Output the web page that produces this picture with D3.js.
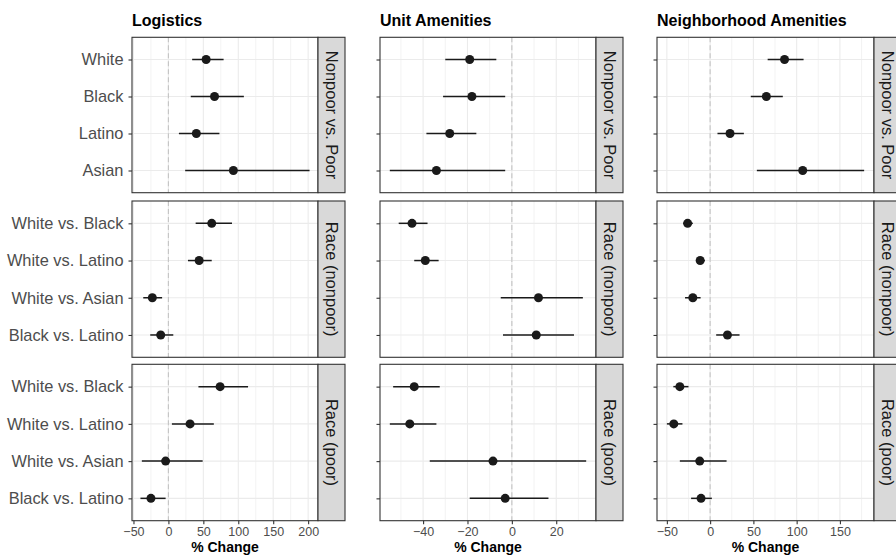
<!DOCTYPE html>
<html>
<head>
<meta charset="utf-8">
<script src="https://cdn.jsdelivr.net/npm/d3@7"></script>
<style>
  body { margin: 0; background: #fff; }
  svg { display: block; font-family: "Liberation Sans", Arial, sans-serif; }
</style>
</head>
<body>
<svg id="chart"></svg>
<script>
// panels (columns) and facet rows
const panels = ["Logistics", "Unit Amenities", "Neighborhood Amenities"];
const groups = ["Nonpoor vs. Poor", "Race (nonpoor)", "Race (poor)"];
const groupCategories = [
  ["White", "Black", "Latino", "Asian"],
  ["White vs. Black", "White vs. Latino", "White vs. Asian", "Black vs. Latino"],
  ["White vs. Black", "White vs. Latino", "White vs. Asian", "Black vs. Latino"]
];

// estimates and 95% intervals, 12 per panel (4 per row, rows in order above)
const logisticsEst = [54, 66, 40, 93, 62, 44, -23, -11, 74, 31, -4, -25];
const logisticsLo  = [34, 32, 15, 24, 39, 28, -36, -26, 43, 5, -38, -40];
const logisticsHi  = [79, 108, 73, 202, 91, 62, -9, 7, 114, 65, 49, -4];

const unitEst = [-19, -18, -28, -34, -45, -39, 12, 11, -44, -46, -8.5, -3];
const unitLo  = [-30, -31, -38.5, -55, -51, -44, -5, -4, -53.5, -55, -37, -19];
const unitHi  = [-7, -3, -16, -3, -38, -33, 32, 28, -32.5, -34, 33.5, 16.5];

const neighEst = [86, 65, 23, 107, -26, -11.5, -20, 20, -35, -42, -12, -10.5];
const neighLo  = [66.5, 47, 8.5, 54, -31, -16, -29, 7, -42.5, -50, -35, -22];
const neighHi  = [108, 84, 39, 178, -20, -6, -11, 34, -25, -32, 19, 2];

// x tick labels for each panel
const logisticsTicks = [-50, 0, 50, 100, 150, 200];
const unitTicks = [-40, -20, 0, 20];
const neighTicks = [-50, 0, 50, 100, 150];

const estimates = [logisticsEst, unitEst, neighEst];
const lows = [logisticsLo, unitLo, neighLo];
const highs = [logisticsHi, unitHi, neighHi];
const tickSets = [logisticsTicks, unitTicks, neighTicks];

// layout
const W = 896, H = 556;
const panelX = [[132, 318], [380, 596], [657, 874]];
const rowY = [[37.3, 192.7], [201, 357.3], [364.3, 520.7]];
const stripW = 27;

const svg = d3.select("#chart").attr("width", W).attr("height", H);
const fmt = d3.format("d");

panels.forEach((title, p) => {
  const all = lows[p].concat(highs[p]);
  const [mn, mx] = d3.extent(all);
  const pad = (mx - mn) * 0.05;
  const x = d3.scaleLinear().domain([mn - pad, mx + pad]).range(panelX[p]);
  const ticks = tickSets[p];
  const step = ticks[1] - ticks[0];
  const minor = d3.range(ticks[0] - step / 2, mx + pad, step).filter(v => v > mn - pad);

  const g = svg.append("g");

  // column title
  g.append("text")
    .attr("x", panelX[p][0])
    .attr("y", 26)
    .attr("font-size", 16)
    .attr("font-weight", "bold")
    .attr("fill", "#000")
    .text(title);

  groups.forEach((grp, r) => {
    const cats = groupCategories[r];
    const y = d3.scalePoint().domain(cats).range(rowY[r]).padding(0.6);
    const [y0, y1] = rowY[r];
    const rows = cats.map((c, i) => ({
      cat: c,
      est: estimates[p][r * 4 + i],
      lo: lows[p][r * 4 + i],
      hi: highs[p][r * 4 + i]
    }));

    const pg = g.append("g");

    pg.append("rect")
      .attr("x", panelX[p][0]).attr("y", y0)
      .attr("width", panelX[p][1] - panelX[p][0]).attr("height", y1 - y0)
      .attr("fill", "#fff");

    // minor grid
    pg.selectAll(".minor").data(minor).join("line")
      .attr("x1", d => x(d)).attr("x2", d => x(d))
      .attr("y1", y0).attr("y2", y1)
      .attr("stroke", "#ebebeb").attr("stroke-width", 0.6);

    // major grid
    pg.selectAll(".major").data(ticks).join("line")
      .attr("x1", d => x(d)).attr("x2", d => x(d))
      .attr("y1", y0).attr("y2", y1)
      .attr("stroke", "#ebebeb").attr("stroke-width", 1.1);

    pg.selectAll(".hgrid").data(cats).join("line")
      .attr("x1", panelX[p][0]).attr("x2", panelX[p][1])
      .attr("y1", d => y(d)).attr("y2", d => y(d))
      .attr("stroke", "#ebebeb").attr("stroke-width", 1.1);

    // zero reference
    pg.append("line")
      .attr("x1", x(0)).attr("x2", x(0))
      .attr("y1", y0).attr("y2", y1)
      .attr("stroke", "#c4c4c4").attr("stroke-width", 1.1)
      .attr("stroke-dasharray", "5,3");

    // intervals
    pg.selectAll(".ci").data(rows).join("line")
      .attr("x1", d => x(d.lo)).attr("x2", d => x(d.hi))
      .attr("y1", d => y(d.cat)).attr("y2", d => y(d.cat))
      .attr("stroke", "#1a1a1a").attr("stroke-width", 1.5);

    // points
    pg.selectAll(".pt").data(rows).join("circle")
      .attr("cx", d => x(d.est)).attr("cy", d => y(d.cat))
      .attr("r", 4.5)
      .attr("fill", "#1a1a1a");

    // panel border
    pg.append("rect")
      .attr("x", panelX[p][0]).attr("y", y0)
      .attr("width", panelX[p][1] - panelX[p][0]).attr("height", y1 - y0)
      .attr("fill", "none").attr("stroke", "#333").attr("stroke-width", 1.1);

    // strip
    pg.append("rect")
      .attr("x", panelX[p][1]).attr("y", y0)
      .attr("width", stripW).attr("height", y1 - y0)
      .attr("fill", "#d9d9d9").attr("stroke", "#333").attr("stroke-width", 1.1);
    pg.append("text")
      .attr("transform", `translate(${panelX[p][1] + stripW / 2},${(y0 + y1) / 2}) rotate(90)`)
      .attr("text-anchor", "middle")
      .attr("dy", "0.35em")
      .attr("font-size", 16.5)
      .attr("fill", "#1a1a1a")
      .text(grp);

    // y axis
    const ya = pg.append("g")
      .attr("transform", `translate(${panelX[p][0]},0)`)
      .call(d3.axisLeft(y).tickSize(3.5).tickPadding(5)
        .tickFormat(p === 0 ? (d => d) : () => ""));
    ya.select(".domain").remove();
    ya.selectAll("line").attr("stroke", "#333").attr("stroke-width", 1.1);
    ya.selectAll("text").attr("font-size", 16.4).attr("fill", "#4d4d4d")
      .attr("font-family", "Liberation Sans, Arial, sans-serif");

    // x axis on bottom row only
    if (r === groups.length - 1) {
      const xa = pg.append("g")
        .attr("transform", `translate(0,${y1})`)
        .call(d3.axisBottom(x).tickValues(ticks).tickSize(3.5).tickPadding(3).tickFormat(fmt));
      xa.select(".domain").remove();
      xa.selectAll("line").attr("stroke", "#333").attr("stroke-width", 1.1);
      xa.selectAll("text").attr("font-size", 12.5).attr("fill", "#4d4d4d")
        .attr("font-family", "Liberation Sans, Arial, sans-serif");

      pg.append("text")
        .attr("x", (panelX[p][0] + panelX[p][1]) / 2)
        .attr("y", 552)
        .attr("text-anchor", "middle")
        .attr("font-size", 14)
        .attr("font-weight", "bold")
        .attr("fill", "#000")
        .text("% Change");
    }
  });
});
</script>
</body>
</html>
